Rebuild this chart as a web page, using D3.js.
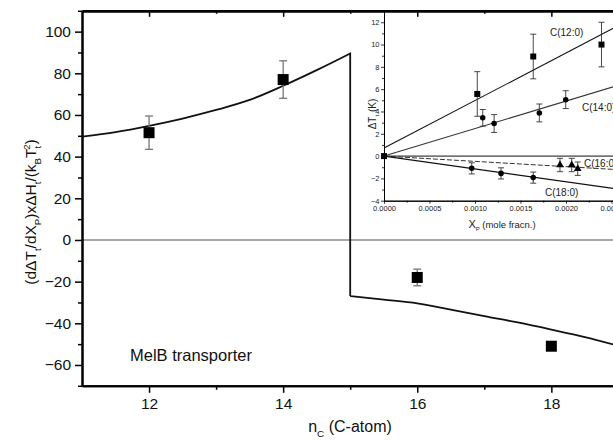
<!DOCTYPE html>
<html><head><meta charset="utf-8">
<script src="https://cdn.jsdelivr.net/npm/d3@7/dist/d3.min.js"></script>
<style>
body{margin:0;background:#fff}
svg{display:block;font-family:"Liberation Sans",Arial,Helvetica,sans-serif}
</style></head><body>
<svg id="chart" width="613" height="441"></svg>
<script>
// main panel: fit curve (two branches) and measured points
const fitUpperN = [11, 11.5, 12, 12.5, 13, 13.5, 14, 14.5, 15];
const fitUpperV = [49.6, 51.8, 54.8, 58.3, 62.4, 67.2, 74, 81.5, 89.5];
const fitLowerN = [15, 15.5, 16, 16.5, 17, 17.5, 18, 18.5, 19];
const fitLowerV = [-26.9, -28.6, -30.4, -33.4, -36.6, -39.6, -43, -46.6, -50.8];
const pointN = [12, 14, 16, 18];
const pointV = [51.5, 77, -18, -51];
const pointErr = [8, 9, 4, 0];

// inset: dTt vs mole fraction
const insetXTicks = [0, 0.0005, 0.001, 0.0015, 0.002, 0.0025];
const fitX = [0, 0.0026];
const c12Fit = [0.72, 11.8];
const c14Fit = [0, 6.41];
const c16Fit = [0, -1.23];
const c18Fit = [0, -3.0];
const c12X = [0, 0.001025, 0.00164, 0.00239];
const c12Y = [0, 5.57, 8.93, 10.0];
const c12Err = [0, 2, 2, 2];
const c14X = [0.001085, 0.00121, 0.001707, 0.001997];
const c14Y = [3.43, 2.92, 3.87, 5.06];
const c14Err = [0.75, 0.8, 0.8, 0.8];
const c16X = [0.001934, 0.002063, 0.002129];
const c16Y = [-0.8, -0.8, -1.13];
const c16Err = [0.6, 0.6, 0.6];
const c18X = [0.000964, 0.001286, 0.00164];
const c18Y = [-1.1, -1.55, -1.93];
const c18Err = [0.5, 0.5, 0.5];

const svg = d3.select('#chart');

const x = d3.scaleLinear().domain([11, 19]).range([82, 618.4]);
const y = d3.scaleLinear().domain([-70, 110]).range([385.8, 10.8]);

const major = d3.range(-60, 101, 20);
const minor = d3.range(-70, 111, 20);
const xMajor = [12, 14, 16, 18];
const xMinor = [13, 15, 17];

function styleAxis(g, w) {
  g.select('.domain').attr('stroke', '#000').attr('stroke-width', w);
  g.selectAll('.tick line').attr('stroke', '#000').attr('stroke-width', 1.5);
  g.selectAll('text').attr('fill', '#111');
}

// zero line
svg.append('line')
  .attr('x1', x(11)).attr('x2', x(19))
  .attr('y1', y(0)).attr('y2', y(0))
  .attr('stroke', '#8a8a8a').attr('stroke-width', 1.5);

// left axis
svg.append('g').attr('transform', `translate(${x(11)},0)`)
  .call(d3.axisLeft(y).tickValues(minor).tickSize(4).tickFormat('').tickSizeOuter(0))
  .call(g => styleAxis(g, 2));
svg.append('g').attr('transform', `translate(${x(11)},0)`)
  .call(d3.axisLeft(y).tickValues(major).tickSize(7).tickPadding(4).tickSizeOuter(0))
  .call(g => styleAxis(g, 2))
  .selectAll('text').attr('font-size', 15.5).attr('font-family', null);

// right axis (inward ticks)
svg.append('g').attr('transform', `translate(${x(19)},0)`)
  .call(d3.axisLeft(y).tickValues(minor).tickSize(-3).tickFormat('').tickSizeOuter(0))
  .call(g => styleAxis(g, 2));
svg.append('g').attr('transform', `translate(${x(19)},0)`)
  .call(d3.axisLeft(y).tickValues(major).tickSize(-6).tickFormat('').tickSizeOuter(0))
  .call(g => styleAxis(g, 2));

// bottom axis
svg.append('g').attr('transform', `translate(0,${y(-70)})`)
  .call(d3.axisBottom(x).tickValues(xMinor).tickSize(4).tickFormat('').tickSizeOuter(0))
  .call(g => styleAxis(g, 2));
svg.append('g').attr('transform', `translate(0,${y(-70)})`)
  .call(d3.axisBottom(x).tickValues(xMajor).tickSize(7).tickPadding(5).tickSizeOuter(0))
  .call(g => styleAxis(g, 2))
  .selectAll('text').attr('font-size', 15.5).attr('font-family', null);

// top axis (inward ticks)
svg.append('g').attr('transform', `translate(0,${y(110)})`)
  .call(d3.axisTop(x).tickValues(xMinor).tickSize(-3).tickFormat('').tickSizeOuter(0))
  .call(g => styleAxis(g, 2.5));
svg.append('g').attr('transform', `translate(0,${y(110)})`)
  .call(d3.axisTop(x).tickValues(xMajor).tickSize(-6).tickFormat('').tickSizeOuter(0))
  .call(g => styleAxis(g, 2.5));

// fit curve
const curve = d3.line().x(d => x(d[0])).y(d => y(d[1])).curve(d3.curveMonotoneX);
const upper = fitUpperN.map((n, i) => [n, fitUpperV[i]]);
const lower = fitLowerN.map((n, i) => [n, fitLowerV[i]]);
svg.append('path').attr('d', curve(upper) + 'L' + x(15) + ',' + y(fitLowerV[0]) + curve(lower).replace(/^M/, 'L'))
  .attr('fill', 'none').attr('stroke', '#111').attr('stroke-width', 1.8);

// error bars and points
pointN.forEach((n, i) => {
  if (pointErr[i] > 0) {
    const g = svg.append('g').attr('stroke', '#777').attr('stroke-width', 1.3);
    g.append('line').attr('x1', x(n)).attr('x2', x(n))
      .attr('y1', y(pointV[i] + pointErr[i])).attr('y2', y(pointV[i] - pointErr[i]));
    [1, -1].forEach(s => g.append('line')
      .attr('x1', x(n) - 4).attr('x2', x(n) + 4)
      .attr('y1', y(pointV[i] + s * pointErr[i])).attr('y2', y(pointV[i] + s * pointErr[i])));
  }
  svg.append('rect').attr('x', x(n) - 5.5).attr('y', y(pointV[i]) - 5.5)
    .attr('width', 11).attr('height', 11).attr('fill', '#000');
});

// rich text helper: parts = [text, kind, size, dx]
function rich(sel, parts, base) {
  let shift = 0;
  parts.forEach(([t, kind, dx]) => {
    const target = kind === 'sub' ? base * 0.33 : kind === 'sup' ? -base * 0.4 : 0;
    sel.append('tspan').text(t)
      .attr('font-size', kind === 'n' ? base : base * 0.62)
      .attr('dx', dx || 0)
      .attr('dy', target - shift);
    shift = target;
  });
}

svg.append('text').attr('x', 130).attr('y', 361).attr('font-size', 16.5).attr('fill', '#111')
  .text('MelB transporter');

const xl = svg.append('text').attr('x', 350).attr('y', 432).attr('text-anchor', 'middle').attr('fill', '#111');
rich(xl, [['n', 'n'], ['C', 'sub'], ['  (C-atom)', 'n']], 16);

const yl = svg.append('text').attr('transform', 'translate(36,212) rotate(-90)')
  .attr('text-anchor', 'middle').attr('fill', '#111');
rich(yl, [['(dΔT', 'n'], ['t', 'sub'], ['/dX', 'n'], ['P', 'sub'], [')xΔH', 'n'], ['t', 'sub'],
  ['/(k', 'n'], ['B', 'sub'], ['T', 'n'], ['t', 'sub'], ['2', 'sup', -4], [')', 'n']], 15.5);

// ---------- inset ----------
const ix = d3.scaleLinear().domain([0, 0.0026]).range([384, 620.6]);
const iy = d3.scaleLinear().domain([-4, 13]).range([200.7, 11.1]);
const inset = svg.append('g');

function styleInset(g) {
  g.select('.domain').attr('stroke', '#000').attr('stroke-width', 1);
  g.selectAll('.tick line').attr('stroke', '#000').attr('stroke-width', 0.8);
  g.selectAll('text').attr('font-size', 7.5).attr('font-family', null).attr('fill', '#222');
}

inset.append('g').attr('transform', `translate(${ix(0)},0)`)
  .call(d3.axisLeft(iy).tickValues(d3.range(-3, 13, 2)).tickSize(2).tickFormat('').tickSizeOuter(0))
  .call(styleInset);
inset.append('g').attr('transform', `translate(${ix(0)},0)`)
  .call(d3.axisLeft(iy).tickValues(d3.range(-4, 13, 2)).tickSize(3).tickPadding(1.5).tickSizeOuter(0))
  .call(styleInset);
inset.append('g').attr('transform', `translate(0,${iy(-4)})`)
  .call(d3.axisBottom(ix).tickValues([0.00025, 0.00075, 0.00125, 0.00175, 0.00225]).tickSize(2).tickFormat('').tickSizeOuter(0))
  .call(styleInset);
inset.append('g').attr('transform', `translate(0,${iy(-4)})`)
  .call(d3.axisBottom(ix).tickValues(insetXTicks).tickSize(3).tickPadding(2).tickFormat(d3.format('.4f')).tickSizeOuter(0))
  .call(styleInset);

// zero line
inset.append('line').attr('x1', ix(0)).attr('x2', ix(0.0026))
  .attr('y1', iy(0)).attr('y2', iy(0)).attr('stroke', '#111').attr('stroke-width', 1);

const fits = [[c12Fit, '#111', null, 1.1], [c14Fit, '#333', null, 1.1],
  [c16Fit, '#333', '5,2', 1], [c18Fit, '#111', null, 1.2]];
fits.forEach(([v, c, dash, w]) => {
  inset.append('line').attr('x1', ix(fitX[0])).attr('x2', ix(fitX[1]))
    .attr('y1', iy(v[0])).attr('y2', iy(v[1]))
    .attr('stroke', c).attr('stroke-width', w).attr('stroke-dasharray', dash);
});

const series = [
  [c12X, c12Y, c12Err, d3.symbolSquare, 36],
  [c14X, c14Y, c14Err, d3.symbolCircle, 24],
  [c16X, c16Y, c16Err, d3.symbolTriangle, 26],
  [c18X, c18Y, c18Err, d3.symbolCircle, 24]
];
series.forEach(([xs, ys, es, sym, size]) => {
  xs.forEach((xv, i) => {
    if (es[i] > 0) {
      const g = inset.append('g').attr('stroke', '#333').attr('stroke-width', 0.9);
      g.append('line').attr('x1', ix(xv)).attr('x2', ix(xv))
        .attr('y1', iy(ys[i] + es[i])).attr('y2', iy(ys[i] - es[i]));
      [1, -1].forEach(s => g.append('line')
        .attr('x1', ix(xv) - 3).attr('x2', ix(xv) + 3)
        .attr('y1', iy(ys[i] + s * es[i])).attr('y2', iy(ys[i] + s * es[i])));
    }
    inset.append('path').attr('d', d3.symbol().type(sym).size(size)())
      .attr('transform', `translate(${ix(xv)},${iy(ys[i])})`).attr('fill', '#000');
  });
});

const insetLabels = [['C(12:0)', 550, 36], ['C(14:0)', 582, 111], ['C(16:0)', 584, 167], ['C(18:0)', 545, 196]];
insetLabels.forEach(([t, lx, ly]) => {
  inset.append('text').attr('x', lx).attr('y', ly).attr('font-size', 10).attr('fill', '#222').text(t);
});

const ixl = inset.append('text').attr('x', 502).attr('y', 228).attr('text-anchor', 'middle').attr('fill', '#222');
rich(ixl, [['X', 'n', 0], ['P', 'sub'], ['  (mole fracn.)', 'n']], 9.5);
ixl.selectAll('tspan').filter((d, i) => i === 0).attr('font-size', 11);

const iyl = inset.append('text').attr('transform', 'translate(376,114) rotate(-90)')
  .attr('text-anchor', 'middle').attr('fill', '#222');
rich(iyl, [['ΔT', 'n'], ['t', 'sub'], ['  (K)', 'n']], 10);
</script>
</body></html>
